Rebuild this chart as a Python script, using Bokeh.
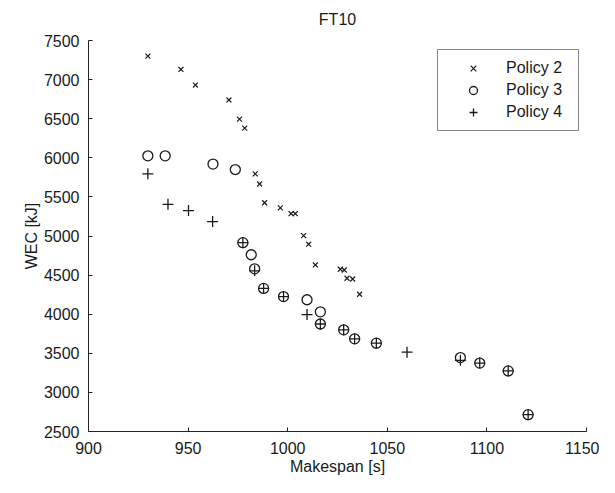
from bokeh.plotting import figure
from bokeh.models import Range1d, FixedTicker, Legend, LegendItem
from bokeh.embed import file_html
from bokeh.resources import INLINE

# Policy 2 (x markers)
p2_x = [929.8, 946.4, 953.7, 970.5, 975.8, 978.4, 983.7, 985.9, 988.4, 996.3,
        1001.7, 1003.8, 1008.0, 1010.5, 1013.9, 1026.4, 1028.4, 1029.8, 1032.6, 1036.1]
p2_y = [7300, 7130, 6930, 6740, 6495, 6380, 5795, 5665, 5425, 5360,
        5285, 5285, 5005, 4895, 4630, 4575, 4565, 4460, 4450, 4255]

# Policy 3 (circles)
p3_x = [929.8, 938.5, 962.5, 973.7, 977.5, 981.7, 983.4, 987.9, 997.9, 1009.7,
        1016.4, 1016.4, 1028.1, 1033.6, 1044.5, 1086.7, 1096.4, 1110.7, 1120.7]
p3_y = [6025, 6025, 5920, 5850, 4915, 4760, 4580, 4330, 4225, 4185,
        4030, 3875, 3800, 3685, 3630, 3445, 3375, 3275, 2715]

# Policy 4 (plus markers)
p4_x = [929.8, 939.9, 950.2, 962.3, 977.5, 983.4, 987.9, 997.9, 1009.7, 1016.4,
        1028.1, 1033.6, 1044.5, 1059.9, 1086.7, 1096.4, 1110.7, 1120.7]
p4_y = [5795, 5405, 5325, 5185, 4915, 4555, 4330, 4225, 3995, 3875,
        3800, 3685, 3630, 3515, 3410, 3375, 3275, 2715]

x_ticks = [900, 950, 1000, 1050, 1100, 1150]
y_ticks = [2500, 3000, 3500, 4000, 4500, 5000, 5500, 6000, 6500, 7000, 7500]
title_text = "FT10"

FONT = "Liberation Sans"
INK = "#1a1a1a"

p = figure(width=599, height=477, output_backend="svg", toolbar_location=None,
           x_range=Range1d(900, 1150), y_range=Range1d(2500, 7500),
           min_border_left=88, min_border_right=13, min_border_top=0, min_border_bottom=43,
           title=title_text)
p.title.align = "center"
p.title.vertical_align = "top"
p.title.text_font = FONT
p.title.text_font_size = "16px"
p.title.text_font_style = "normal"
p.title.text_color = INK
p.title.standoff = 21

p.outline_line_color = None
p.grid.visible = False
p.background_fill_color = "white"
p.border_fill_color = "white"

for ax in (p.xaxis[0], p.yaxis[0]):
    ax.axis_line_color = "#222222"
    ax.axis_line_width = 1
    ax.major_tick_in = 4
    ax.major_tick_out = 0
    ax.minor_tick_line_color = None
    ax.major_tick_line_color = "#222222"
    ax.major_label_text_font = FONT
    ax.major_label_text_font_size = "16px"
    ax.major_label_text_color = INK
    ax.axis_label_text_font = FONT
    ax.axis_label_text_font_size = "16px"
    ax.axis_label_text_font_style = "normal"
    ax.axis_label_text_color = INK

p.xaxis.ticker = FixedTicker(ticks=x_ticks)
p.yaxis.ticker = FixedTicker(ticks=y_ticks)
p.xaxis.axis_label = "Makespan [s]"
p.yaxis.axis_label = "WEC [kJ]"
p.xaxis.major_label_standoff = 10
p.yaxis.major_label_standoff = 9
p.xaxis.axis_label_standoff = 1
p.yaxis.axis_label_standoff = 1

r2 = p.scatter(p2_x, p2_y, marker="x", size=7, line_color=INK, line_width=1.2)
r3 = p.scatter(p3_x, p3_y, marker="circle", size=10, line_color=INK, fill_color=None, line_width=1.3)
r4 = p.scatter(p4_x, p4_y, marker="cross", size=11, line_color=INK, line_width=1.3)

legend = Legend(items=[LegendItem(label="Policy 2", renderers=[r2]),
                       LegendItem(label="Policy 3", renderers=[r3]),
                       LegendItem(label="Policy 4", renderers=[r4])],
                location=(349, 300))
legend.border_line_color = "#111111"
legend.border_line_width = 1
legend.background_fill_alpha = 1
legend.padding = 8
legend.margin = 0
legend.spacing = 2
legend.glyph_width = 54
legend.glyph_height = 20
legend.label_standoff = 6
legend.label_width = 64
legend.label_text_font = FONT
legend.label_text_font_size = "16px"
legend.label_text_color = INK
p.add_layout(legend, "center")

open("out.html", "w").write(file_html(p, INLINE))
